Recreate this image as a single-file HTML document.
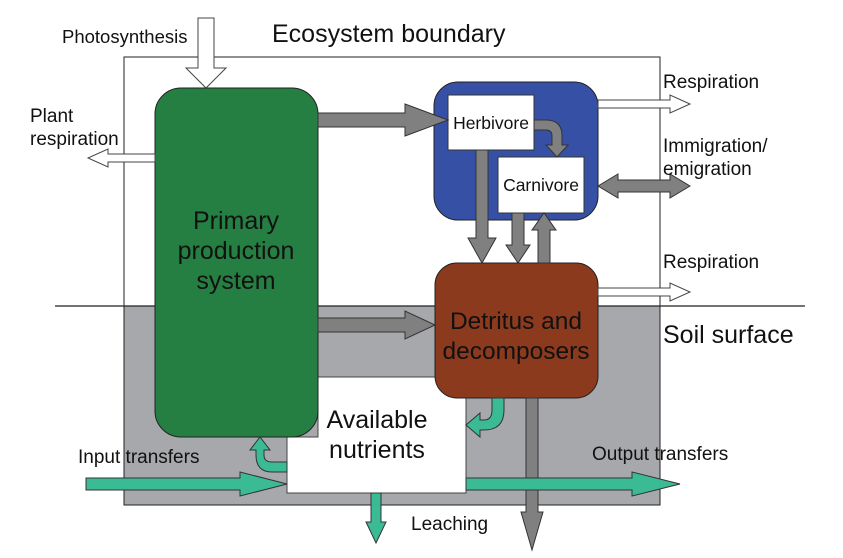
<!DOCTYPE html><html><head><style>body{margin:0;background:#fff}svg{display:block}text{font-family:"Liberation Sans",sans-serif;fill:#111}</style></head><body>
<svg width="843" height="558" viewBox="0 0 843 558">
<rect x="124" y="306" width="536" height="199" fill="#a6a8ab"/>
<rect x="124" y="57" width="536" height="448" fill="none" stroke="#222" stroke-width="1"/>
<polygon points="318,377 466,377 466,493 287,493 287,437 318,437" fill="#fff" stroke="#444"/>
<line x1="55" y1="306" x2="805" y2="306" stroke="#222" stroke-width="1.2"/>
<rect x="155" y="88" width="163" height="349" rx="26" fill="#267f42" stroke="#222"/>
<rect x="434" y="82" width="164" height="138" rx="24" fill="#3550a5" stroke="#222"/>
<rect x="448" y="95" width="86" height="55" fill="#fff" stroke="#333"/>
<rect x="498" y="157" width="86" height="56" fill="#fff" stroke="#333"/>
<rect x="435" y="263" width="163" height="135" rx="22" fill="#8b3a1e" stroke="#222"/>
<g fill="#fff" stroke="#444">
<polygon points="198,18 214,18 214,68 226,68 206,88 186,68 198,68"/>
<polygon points="155,154 108,154 108,149 88,158 108,167 108,162 155,162"/>
<polygon points="598,100 670,100 670,95 690,104 670,113 670,108 598,108"/>
<polygon points="598,288 670,288 670,283 690,292 670,301 670,296 598,296"/>
</g>
<g fill="#808080" stroke="#333">
<polygon points="318,113 405,113 405,104 448,120 405,136 405,127 318,127"/>
<polygon points="318,318 405,318 405,311 435,325 405,339 405,332 318,332"/>
<polygon points="476,150 488,150 488,238 496,238 482,263 468,238 476,238"/>
<polygon points="512,213 524,213 524,245 530,245 518,263 506,245 512,245"/>
<polygon points="538,263 550,263 550,230 556,230 544,213 532,230 538,230"/>
<polygon points="526,398 538,398 538,512 543,512 532,550 521,512 526,512"/>
<polygon points="598,186 618,174 618,180 670,180 670,174 690,186 670,198 670,192 618,192 618,198"/>
<path d="M534,120 L546,120 Q562,120 562,136 L562,145 L568,145 L557,157 L546,145 L552,145 L552,136 Q552,130 546,130 L534,130 Z"/>
</g>
<g fill="#3bbb94" stroke="#333">
<polygon points="86,478 240,478 240,472 287,484 240,496 240,490 86,490"/>
<polygon points="466,478 632,478 632,472 680,484 632,496 632,490 466,490"/>
<polygon points="371,493 381,493 381,522 386,522 376,543 366,522 371,522"/>
<path d="M492,398 L504,398 L504,410 Q504,430 484,430 L480,430 L480,437 L466,425 L480,413 L480,420 L484,420 Q492,420 492,410 Z"/>
<path d="M287,462 L287,472 L272,472 Q256,472 256,455 L256,450 L250,450 L260,437 L270,450 L264,450 L264,455 Q264,462 272,462 Z"/>
</g>
<g font-size="19">
<text x="62" y="43" font-size="18.5">Photosynthesis</text>
<text x="30" y="122">Plant</text>
<text x="30" y="145">respiration</text>
<text x="663" y="88">Respiration</text>
<text x="663" y="152">Immigration/</text>
<text x="663" y="175">emigration</text>
<text x="663" y="268">Respiration</text>
<text x="78" y="463">Input transfers</text>
<text x="592" y="460">Output transfers</text>
<text x="411" y="530">Leaching</text>
</g>
<text x="272" y="42" font-size="25">Ecosystem boundary</text>
<g font-size="25" text-anchor="middle"><text x="236" y="229">Primary</text><text x="236" y="259">production</text><text x="236" y="289">system</text>
<text x="516" y="329" font-size="24.5">Detritus and</text><text x="516" y="359" font-size="24.5">decomposers</text>
<text x="377" y="428">Available</text><text x="377" y="458">nutrients</text></g>
<text x="491" y="129" font-size="17.5" text-anchor="middle">Herbivore</text>
<text x="541" y="191" font-size="17.5" text-anchor="middle">Carnivore</text>
<text x="663" y="343" font-size="25">Soil surface</text>
</svg></body></html>
